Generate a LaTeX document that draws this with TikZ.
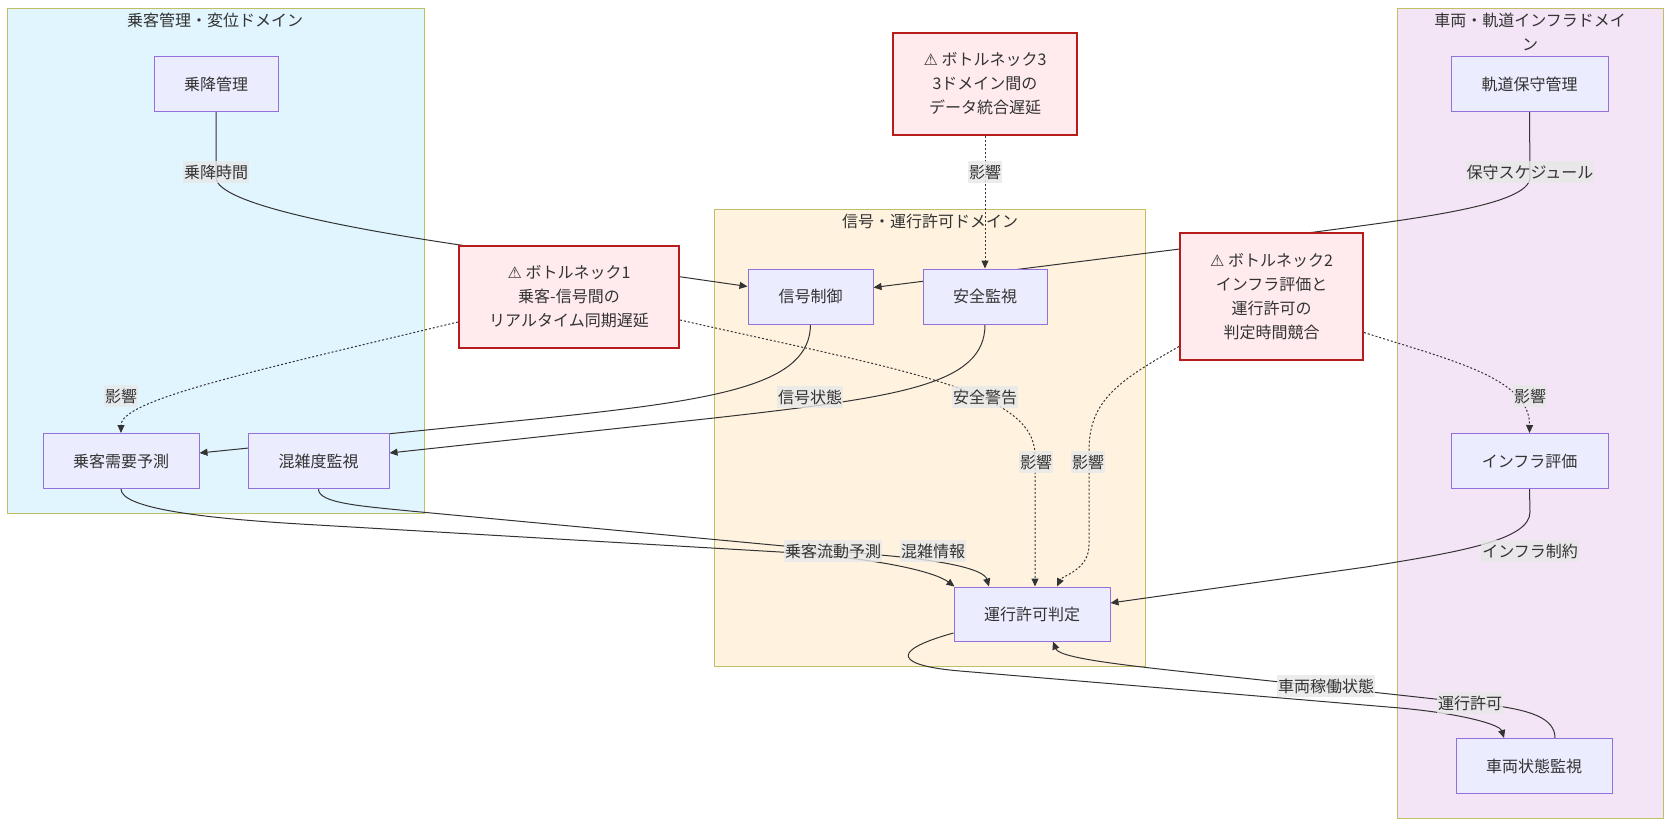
\documentclass[tikz,border=0pt]{standalone}
\usepackage{fontspec}
\setmainfont{Noto Sans CJK JP}
\newfontfamily\symfont{DejaVu Sans}
\usetikzlibrary{arrows.meta,calc}
\pgfdeclarelayer{bg}
\pgfdeclarelayer{edges}
\pgfsetlayers{bg,edges,main}
\definecolor{nodefill}{HTML}{ECECFF}
\definecolor{nodestroke}{HTML}{9370DB}
\definecolor{bnfill}{HTML}{FFEBEE}
\definecolor{bnstroke}{HTML}{B71C1C}
\definecolor{cafill}{HTML}{E1F5FE}
\definecolor{cbfill}{HTML}{FFF3E0}
\definecolor{ccfill}{HTML}{F3E5F5}
\definecolor{clstroke}{HTML}{BFBF66}
\definecolor{txt}{HTML}{333333}
\definecolor{lblfill}{HTML}{E8E8E8}
\newcommand{\warnsym}{{\symfont\fontsize{16pt}{24pt}\selectfont ⚠}}
\begin{document}
\begin{tikzpicture}[x=1pt,y=-1pt,
  basefont/.style={font=\fontsize{16pt}{24pt}\selectfont, text=txt},
  box/.style={basefont, draw=nodestroke, fill=nodefill, line width=1pt, minimum height=55pt, inner sep=0pt},
  bnbox/.style={basefont, draw=bnstroke, fill=bnfill, line width=2pt, inner sep=0pt, align=center},
  lbl/.style={basefont, fill=lblfill, fill opacity=0.8, text opacity=1, inner xsep=1pt, inner ysep=0pt, minimum height=22pt},
  ctitle/.style={basefont, inner sep=0pt},
  cluster/.style={draw=clstroke, line width=1pt},
  flow/.style={draw=txt, line width=1pt, -{Triangle[length=8pt,width=7pt]}},
  plainlink/.style={draw=txt, line width=1pt},
  infl/.style={draw=txt, line width=1pt, dash pattern=on 2pt off 2pt, -{Triangle[length=8pt,width=7pt]}}
]
\useasboundingbox (0,0) rectangle (1671,827);

% background and clusters
\begin{pgfonlayer}{bg}
\fill[white] (0,0) rectangle (1671,827);
\draw[cluster, fill=cafill] (7,8) rectangle (424,513);
\draw[cluster, fill=cbfill] (714,209) rectangle (1145,666);
\draw[cluster, fill=ccfill] (1397,8) rectangle (1663,818);
\end{pgfonlayer}
\node[ctitle] (ta) at (215,20) {乗客管理・変位ドメイン};
\node[ctitle] (tb) at (930,221) {信号・運行許可ドメイン};
\node[ctitle, align=center] (tc) at (1530,31.5) {車両・軌道インフラドメイ\\ン};

% nodes
\node[box, minimum width=124pt] (boarding) at (216,84) {乗降管理};
\node[box, minimum width=156pt] (demand) at (121,461) {乗客需要予測};
\node[box, minimum width=141pt] (crowd) at (318.5,461) {混雑度監視};
\node[box, minimum width=125pt] (sig) at (810.5,296.5) {信号制御};
\node[box, minimum width=124pt] (safe) at (985,296.5) {安全監視};
\node[box, minimum width=156pt, minimum height=54pt] (opj) at (1032,614) {運行許可判定};
\node[box, minimum width=157pt] (track) at (1529.5,84) {軌道保守管理};
\node[box, minimum width=157pt] (infra) at (1529.5,461) {インフラ評価};
\node[box, minimum width=156pt] (veh) at (1534,766) {車両状態監視};

\node[bnbox, minimum width=220pt, minimum height=102pt] (bn1) at (569,297)
  {\warnsym\ ボトルネック1\\乗客-信号間の\\リアルタイム同期遅延};
\node[bnbox, minimum width=183pt, minimum height=127pt] (bn2) at (1271.5,296.5)
  {\warnsym\ ボトルネック2\\インフラ評価と\\運行許可の\\判定時間競合};
\node[bnbox, minimum width=184pt, minimum height=102pt] (bn3) at (985,84)
  {\warnsym\ ボトルネック3\\3ドメイン間の\\データ統合遅延};

% edges
\begin{pgfonlayer}{edges}
\draw[flow] (boarding.south) -- (216,178) .. controls (218,205) and (360,230) .. (460,245) -- ($(sig.west)+(0,-10)$);
\draw[flow] (track.south) -- (1530,178) .. controls (1528,205) and (1420,218) .. (1315,232) -- ($(sig.east)+(0,-9)$);
\draw[flow] (sig.south) .. controls (810,385) and (720,400) .. (535,419) -- ($(demand.east)+(0,-8)$);
\draw[flow] (safe.south) .. controls (985,385) and (900,397) .. (714,418) -- ($(crowd.east)+(0,-8)$);
\draw[flow] (demand.south) .. controls (121,508) and (200,518) .. (300,524) -- (780,552) .. controls (880,558) and (935,572) .. ($(opj.north west)+(1,0)$);
\draw[flow] (crowd.south) .. controls (318,503) and (360,506) .. (410,511) -- (880,555) .. controls (950,561) and (984,570) .. ($(opj.north)+(-43,0)$);
\draw[flow] (infra.south) -- (1530,512) .. controls (1530,540) and (1460,552) .. (1366,567) -- ($(opj.east)+(0,-11)$);
\draw[flow] ($(opj.west)+(0,19)$) .. controls (885,652) and (900,666) .. (960,671) -- (1400,708) .. controls (1465,714) and (1500,725) .. ($(veh.north)+(-30,0)$);
\draw[flow] ($(veh.north)+(21,0)$) .. controls (1555,718) and (1530,710) .. (1490,705) -- (1280,682) .. controls (1150,668) and (1060,660) .. ($(opj.south)+(21,0)$);
% influence (dotted)
\draw[infl] ($(bn1.west)+(0,25)$) .. controls (250,372) and (121,400) .. (demand.north);
\draw[infl] ($(bn1.east)+(0,23)$) .. controls (900,370) and (1035,390) .. (1035,455) -- ($(opj.north)+(3,0)$);
\draw[infl] ($(bn2.west)+(0,50)$) .. controls (1120,380) and (1089,400) .. (1089,450) -- (1089,545) .. controls (1089,570) and (1062,576) .. ($(opj.north)+(25,0)$);
\draw[infl] ($(bn2.east)+(0,36)$) .. controls (1450,360) and (1530,378) .. (infra.north);
\draw[infl] (bn3.south) -- (safe.north);
\end{pgfonlayer}

% edge labels
\node[lbl] (l1) at (216,172) {乗降時間};
\node[lbl] (l2) at (1530,172) {保守スケジュール};
\node[lbl] (l3) at (985,172) {影響};
\node[lbl] (l4) at (121,396) {影響};
\node[lbl] (l5) at (810,397) {信号状態};
\node[lbl] (l6) at (985,397) {安全警告};
\node[lbl] (l7) at (1530,396) {影響};
\node[lbl] (l8) at (1036,462) {影響};
\node[lbl] (l9) at (1088,462) {影響};
\node[lbl] (l10) at (833,551) {乗客流動予測};
\node[lbl] (l11) at (933,551) {混雑情報};
\node[lbl] (l12) at (1530,551) {インフラ制約};
\node[lbl] (l13) at (1326,686) {車両稼働状態};
\node[lbl] (l14) at (1470,703) {運行許可};
\end{tikzpicture}
\end{document}
